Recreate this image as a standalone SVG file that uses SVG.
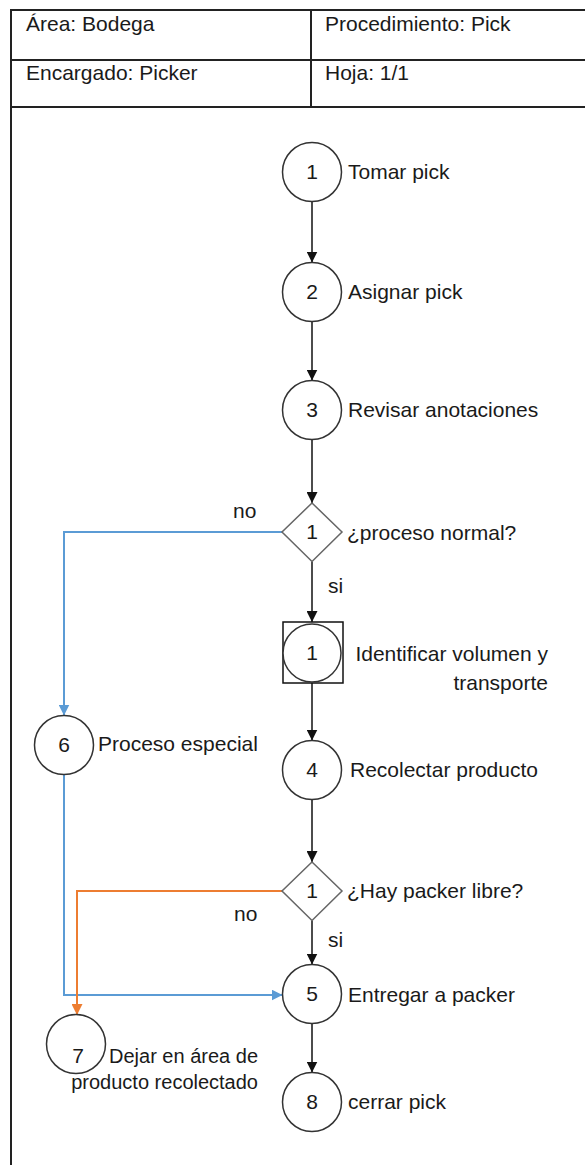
<svg xmlns="http://www.w3.org/2000/svg" width="585" height="1165" viewBox="0 0 585 1165">
  <style>
    text { font-family: "Liberation Sans", Arial, sans-serif; font-size: 21px; fill: #1a1a1a; }
    .num { text-anchor: middle; }
    .small { font-size: 20px; }
    .frame { stroke: #222; stroke-width: 2; fill: none; }
    .step { fill: #fff; stroke: #333; stroke-width: 1.5; }
    .dec { fill: #fff; stroke: #666; stroke-width: 1.5; }
    .box { fill: none; stroke: #111; stroke-width: 1.5; }
    .flow { fill: none; stroke: #111; stroke-width: 1.5; }
    .blue { fill: none; stroke: #5b9bd5; stroke-width: 2; }
    .orange { fill: none; stroke: #ed7d31; stroke-width: 2; }
  </style>
  <defs>
    <marker id="arrK" viewBox="0 0 10 10" refX="10" refY="5" markerWidth="11" markerHeight="11" markerUnits="userSpaceOnUse" orient="auto">
      <path d="M0,0 L10,5 L0,10 z" fill="#111"/>
    </marker>
    <marker id="arrB" viewBox="0 0 10 10" refX="10" refY="5" markerWidth="11" markerHeight="11" markerUnits="userSpaceOnUse" orient="auto">
      <path d="M0,0 L10,5 L0,10 z" fill="#5b9bd5"/>
    </marker>
    <marker id="arrO" viewBox="0 0 10 10" refX="10" refY="5" markerWidth="11" markerHeight="11" markerUnits="userSpaceOnUse" orient="auto">
      <path d="M0,0 L10,5 L0,10 z" fill="#ed7d31"/>
    </marker>
  </defs>

  <rect width="585" height="1165" fill="#fff"/>

  <!-- header table and page frame -->
  <g id="header">
    <line class="frame" x1="11" y1="10" x2="585" y2="10"/>
    <line class="frame" x1="11" y1="60" x2="585" y2="60"/>
    <line class="frame" x1="11" y1="107" x2="585" y2="107"/>
    <line class="frame" x1="11" y1="9" x2="11" y2="1165"/>
    <line class="frame" x1="311" y1="10" x2="311" y2="107"/>
    <text x="26" y="31">Área: Bodega</text>
    <text x="325" y="31">Procedimiento: Pick</text>
    <text x="26" y="80">Encargado: Picker</text>
    <text x="325" y="80">Hoja: 1/1</text>
  </g>

  <!-- connectors -->
  <g id="connectors">
    <line class="flow" x1="312" y1="201" x2="312" y2="262.5" marker-end="url(#arrK)"/>
    <line class="flow" x1="312" y1="321.5" x2="312" y2="380.5" marker-end="url(#arrK)"/>
    <line class="flow" x1="312" y1="439.5" x2="312" y2="503" marker-end="url(#arrK)"/>
    <line class="flow" x1="312" y1="561.5" x2="312" y2="622" marker-end="url(#arrK)"/>
    <line class="flow" x1="312" y1="683" x2="312" y2="740.5" marker-end="url(#arrK)"/>
    <line class="flow" x1="312" y1="799.5" x2="312" y2="862" marker-end="url(#arrK)"/>
    <line class="flow" x1="312" y1="920.5" x2="312" y2="964.5" marker-end="url(#arrK)"/>
    <line class="flow" x1="312" y1="1023.5" x2="312" y2="1072.5" marker-end="url(#arrK)"/>
    <polyline class="blue" points="282,532 64,532 64,715.5" marker-end="url(#arrB)"/>
    <polyline class="blue" points="64,774.5 64,995 282.5,995" marker-end="url(#arrB)"/>
    <polyline class="orange" points="282,891 77,891 77,1015" marker-end="url(#arrO)"/>
    <text x="233" y="518">no</text>
    <text x="328" y="593">si</text>
    <text x="234" y="921">no</text>
    <text x="328" y="947">si</text>
  </g>

  <g id="n1">
    <circle class="step" cx="312" cy="172" r="29.5"/>
    <text class="num" x="312" y="179">1</text>
    <text x="348" y="179">Tomar pick</text>
  </g>
  <g id="n2">
    <circle class="step" cx="312" cy="292" r="29.5"/>
    <text class="num" x="312" y="299">2</text>
    <text x="348" y="299">Asignar pick</text>
  </g>
  <g id="n3">
    <circle class="step" cx="312" cy="410" r="29.5"/>
    <text class="num" x="312" y="417">3</text>
    <text x="348" y="417">Revisar anotaciones</text>
  </g>
  <g id="d1">
    <polygon class="dec" points="312,503 342,532 312,561.5 282,532"/>
    <text class="num" x="312" y="539">1</text>
    <text x="347" y="540">¿proceso normal?</text>
  </g>
  <g id="i1">
    <rect class="box" x="283" y="622" width="60" height="61"/>
    <circle class="step" cx="312" cy="653" r="29"/>
    <text class="num" x="312" y="660">1</text>
    <text x="548" y="661" text-anchor="end">Identificar volumen y</text>
    <text x="548" y="690" text-anchor="end">transporte</text>
  </g>
  <g id="n6">
    <circle class="step" cx="64" cy="745" r="29.5"/>
    <text class="num" x="64" y="752">6</text>
    <text x="98" y="751">Proceso especial</text>
  </g>
  <g id="n4">
    <circle class="step" cx="312" cy="770" r="29.5"/>
    <text class="num" x="312" y="777">4</text>
    <text x="350" y="777">Recolectar producto</text>
  </g>
  <g id="d2">
    <polygon class="dec" points="312,862 342,891 312,920.5 282,891"/>
    <text class="num" x="312" y="898">1</text>
    <text x="347" y="898">¿Hay packer libre?</text>
  </g>
  <g id="n5">
    <circle class="step" cx="312" cy="994" r="29.5"/>
    <text class="num" x="312" y="1001">5</text>
    <text x="348" y="1002">Entregar a packer</text>
  </g>
  <g id="n7">
    <circle class="step" cx="76" cy="1044" r="29.5"/>
    <text class="num" x="78" y="1063">7</text>
    <text class="small" x="258" y="1063" text-anchor="end">Dejar en área de</text>
    <text class="small" x="258" y="1089" text-anchor="end">producto recolectado</text>
  </g>
  <g id="n8">
    <circle class="step" cx="312" cy="1102" r="29.5"/>
    <text class="num" x="312" y="1109">8</text>
    <text x="348" y="1109">cerrar pick</text>
  </g>
</svg>
